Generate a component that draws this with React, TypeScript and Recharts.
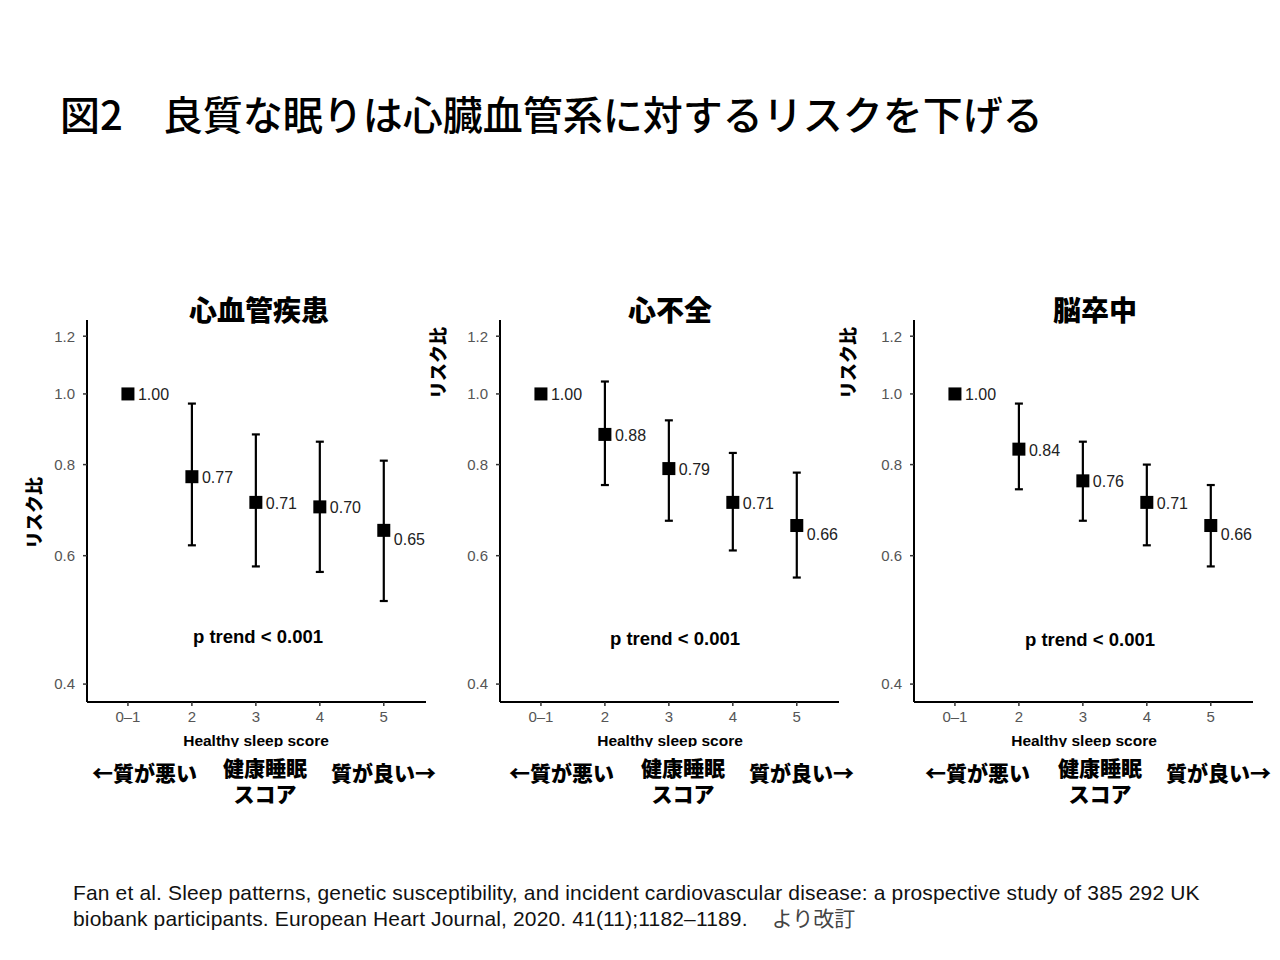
import React from 'react';
import { ScatterChart, Scatter, XAxis, YAxis, ErrorBar } from 'recharts';

// healthy sleep score groups
const SCORES = [1, 2, 3, 4, 5];
const SCORE_LABELS = ['0–1', '2', '3', '4', '5'];
const Y_TICKS = [0.4, 0.6, 0.8, 1.0, 1.2];

// hazard ratios and 95% CI, cardiovascular disease
const CVD_HR = [1.0, 0.77, 0.71, 0.7, 0.65];
const CVD_LO = [1.0, 0.62, 0.58, 0.57, 0.52];
const CVD_HI = [1.0, 0.97, 0.88, 0.86, 0.81];

// heart failure
const HF_HR = [1.0, 0.88, 0.79, 0.71, 0.66];
const HF_LO = [1.0, 0.75, 0.67, 0.61, 0.56];
const HF_HI = [1.0, 1.04, 0.92, 0.83, 0.78];

// stroke
const ST_HR = [1.0, 0.84, 0.76, 0.71, 0.66];
const ST_LO = [1.0, 0.74, 0.67, 0.62, 0.58];
const ST_HI = [1.0, 0.97, 0.86, 0.8, 0.75];

const JP = '"Noto Sans CJK JP", "Noto Sans", sans-serif';
const LATIN = '"Liberation Sans", Arial, sans-serif';

function rows(hr: number[], lo: number[], hi: number[]) {
  return SCORES.map((x, i) => ({ x, y: hr[i], err: [hr[i] - lo[i], hi[i] - hr[i]] }));
}

const PANELS = [
  { title: '心血管疾患', data: rows(CVD_HR, CVD_LO, CVD_HI), plotLeft: 87, titleX: 259, trendX: 258, trendY: 637, yTitleX: 33, yTitleY: 513, xTitleX: 256, notes: [92, 265, 331] },
  { title: '心不全', data: rows(HF_HR, HF_LO, HF_HI), plotLeft: 500, titleX: 670, trendX: 675, trendY: 639, yTitleX: 437, yTitleY: 363, xTitleX: 670, notes: [509, 683, 749] },
  { title: '脳卒中', data: rows(ST_HR, ST_LO, ST_HI), plotLeft: 914, titleX: 1095, trendX: 1090, trendY: 640, yTitleX: 847, yTitleY: 363, xTitleX: 1084, notes: [925, 1100, 1166] },
];

function Square(props: any) {
  const { cx, cy, payload } = props;
  const last = payload.x === SCORES[SCORES.length - 1];
  return (
    <g>
      <rect x={cx - 6.5} y={cy - 6.5} width={13} height={13} fill="#000" />
      <text x={cx + 10} y={cy + (last ? 9 : 1)} dominantBaseline="central" fontSize={16} fill="#222" fontFamily={LATIN}>
        {payload.y.toFixed(2)}
      </text>
    </g>
  );
}

const abs = (s: React.CSSProperties): React.CSSProperties => ({ position: 'absolute', whiteSpace: 'nowrap', ...s });

const noteStyle: React.CSSProperties = { fontFamily: JP, fontSize: 21, fontWeight: 900, lineHeight: '26px' };

function Panel({ p }: { p: (typeof PANELS)[number] }) {
  return (
    <>
      <div style={abs({ left: p.titleX - 120, top: 293, width: 240, textAlign: 'center', fontFamily: JP, fontSize: 28, fontWeight: 900, lineHeight: '32px' })}>
        {p.title}
      </div>
      <div style={abs({ left: p.yTitleX - 50, top: p.yTitleY - 12, width: 100, height: 24, lineHeight: '24px', textAlign: 'center', fontFamily: JP, fontSize: 18, fontWeight: 900, transform: 'rotate(-90deg)' })}>
        リスク比
      </div>
      <div style={abs({ left: p.plotLeft - 40, top: 315 })}>
        <ScatterChart width={384} height={417} margin={{ top: 5, right: 5, bottom: 0, left: 0 }}>
          <XAxis
            type="number"
            dataKey="x"
            domain={[0.36, 5.66]}
            ticks={SCORES}
            allowDataOverflow
            tickFormatter={(v: number) => SCORE_LABELS[v - 1]}
            height={30}
            axisLine={{ stroke: '#000', strokeWidth: 2 }}
            tickLine={{ stroke: '#333', strokeWidth: 1.5 }}
            tickSize={4}
            tickMargin={5}
            tick={{ fill: '#555', fontSize: 15, fontFamily: LATIN }}
          />
          <YAxis
            type="number"
            dataKey="y"
            scale="log"
            domain={[0.378, 1.263]}
            ticks={Y_TICKS}
            allowDataOverflow
            tickFormatter={(v: number) => v.toFixed(1)}
            width={40}
            axisLine={{ stroke: '#000', strokeWidth: 2 }}
            tickLine={{ stroke: '#333', strokeWidth: 1.5 }}
            tickSize={4}
            tickMargin={8}
            tick={{ fill: '#555', fontSize: 15, fontFamily: LATIN }}
          />
          <Scatter data={p.data} shape={<Square />} isAnimationActive={false}>
            <ErrorBar dataKey="err" direction="y" width={4} strokeWidth={2.2} stroke="#000" />
          </Scatter>
        </ScatterChart>
      </div>
      <div style={abs({ left: p.trendX - 100, top: p.trendY - 11, width: 200, textAlign: 'center', fontFamily: LATIN, fontSize: 18.5, fontWeight: 700, lineHeight: '22px' })}>
        p trend &lt; 0.001
      </div>
      <div style={abs({ left: p.xTitleX - 100, top: 732, width: 200, height: 15, overflow: 'hidden', textAlign: 'center', fontFamily: LATIN, fontSize: 15.5, fontWeight: 700, lineHeight: '17px' })}>
        Healthy sleep score
      </div>
      <div style={abs({ left: p.notes[0], top: 759, ...noteStyle })}>←質が悪い</div>
      <div style={abs({ left: p.notes[1] - 60, top: 754, width: 120, textAlign: 'center', ...noteStyle })}>健康睡眠</div>
      <div style={abs({ left: p.notes[1] - 60, top: 780, width: 120, textAlign: 'center', ...noteStyle })}>スコア</div>
      <div style={abs({ left: p.notes[2], top: 759, ...noteStyle })}>質が良い→</div>
    </>
  );
}

export default function App() {
  return (
    <div style={{ position: 'absolute', left: 0, top: 0, width: 1280, height: 960, background: '#fff', overflow: 'hidden', color: '#000' }}>
      <div style={abs({ left: 60, top: 88, fontFamily: JP, fontSize: 40, fontWeight: 500, lineHeight: '50px' })}>
        図2　良質な眠りは心臓血管系に対するリスクを下げる
      </div>
      {PANELS.map((p) => (
        <Panel key={p.title} p={p} />
      ))}
      <div style={abs({ left: 73, top: 880, fontFamily: LATIN, fontSize: 21, letterSpacing: 0.15, lineHeight: '25px', color: '#111' })}>
        Fan et al. Sleep patterns, genetic susceptibility, and incident cardiovascular disease: a prospective study of 385 292 UK
        <br />
        biobank participants. European Heart Journal, 2020. 41(11);1182–1189.
        <span style={{ marginLeft: 24, fontFamily: JP, fontSize: 21, letterSpacing: 0, color: '#444' }}>より改訂</span>
      </div>
    </div>
  );
}
